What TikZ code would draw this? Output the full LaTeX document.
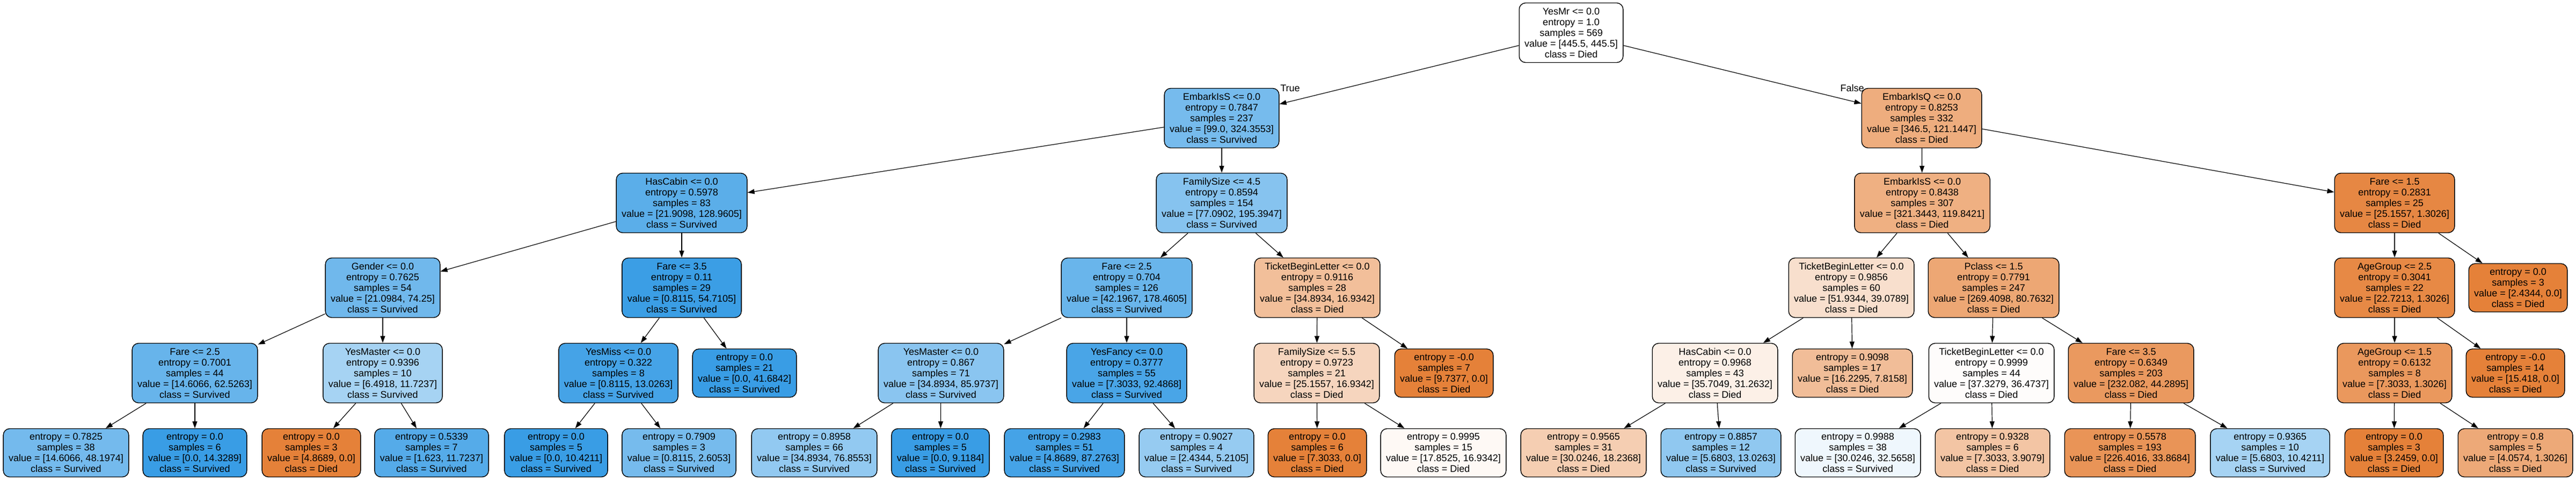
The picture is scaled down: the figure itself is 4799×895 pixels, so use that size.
\documentclass[tikz,border=0pt]{standalone}
\usepackage{fontspec}
\setmainfont{Liberation Sans}
\usepackage{xcolor}
\usepackage{tikz}
\usetikzlibrary{arrows.meta}
\definecolor{died}{HTML}{E58139}
\definecolor{surv}{HTML}{399DE5}
\tikzstyle{splitbox} = [rectangle, rounded corners=12pt, minimum height=111pt, inner xsep=10pt, inner ysep=2pt, align=center, draw=black, line width=1.4pt, font=\fontsize{18}{20}\selectfont]
\tikzstyle{leafbox} = [splitbox, minimum height=90pt]
\tikzstyle{arrow} = [line width=1.2pt, -{Triangle[length=13pt,width=9pt]}]
\tikzstyle{edgelabel} = [inner sep=0pt, font=\fontsize{18}{20}\selectfont]

\begin{document}
\begin{tikzpicture}[x=1pt, y=1pt]
   \fill [white] (0,0) rectangle (4799,-895);
   % depth 0 and 1
   \node (root) [splitbox, fill=white] at (2927,-61) {YesMr <= 0.0\\entropy = 1.0\\samples = 569\\value = [445.5, 445.5]\\class = Died};
   \node (embS) [splitbox, fill=surv!69!white] at (2276,-220) {EmbarkIsS <= 0.0\\entropy = 0.7847\\samples = 237\\value = [99.0, 324.3553]\\class = Survived};
   \node (embQ) [splitbox, fill=died!65!white] at (3580,-220) {EmbarkIsQ <= 0.0\\entropy = 0.8253\\samples = 332\\value = [346.5, 121.1447]\\class = Died};
   % depth 2
   \node (cabin) [splitbox, fill=surv!83!white] at (1270,-378) {HasCabin <= 0.0\\entropy = 0.5978\\samples = 83\\value = [21.9098, 128.9605]\\class = Survived};
   \node (fam) [splitbox, fill=surv!61!white] at (2276,-378) {FamilySize <= 4.5\\entropy = 0.8594\\samples = 154\\value = [77.0902, 195.3947]\\class = Survived};
   \node (embS2) [splitbox, fill=died!63!white] at (3581,-378) {EmbarkIsS <= 0.0\\entropy = 0.8438\\samples = 307\\value = [321.3443, 119.8421]\\class = Died};
   \node (fareA) [splitbox, fill=died!95!white] at (4461,-378) {Fare <= 1.5\\entropy = 0.2831\\samples = 25\\value = [25.1557, 1.3026]\\class = Died};
   % depth 3
   \node (gender) [splitbox, fill=surv!72!white] at (713,-536) {Gender <= 0.0\\entropy = 0.7625\\samples = 54\\value = [21.0984, 74.25]\\class = Survived};
   \node (fareB) [splitbox, fill=surv!99!white] at (1270,-536) {Fare <= 3.5\\entropy = 0.11\\samples = 29\\value = [0.8115, 54.7105]\\class = Survived};
   \node (fareC) [splitbox, fill=surv!76!white] at (2099,-536) {Fare <= 2.5\\entropy = 0.704\\samples = 126\\value = [42.1967, 178.4605]\\class = Survived};
   \node (ticketA) [splitbox, fill=died!51!white] at (2454,-536) {TicketBeginLetter <= 0.0\\entropy = 0.9116\\samples = 28\\value = [34.8934, 16.9342]\\class = Died};
   \node (ticketB) [splitbox, fill=died!25!white] at (3449,-536) {TicketBeginLetter <= 0.0\\entropy = 0.9856\\samples = 60\\value = [51.9344, 39.0789]\\class = Died};
   \node (pclass) [splitbox, fill=died!70!white] at (3714,-536) {Pclass <= 1.5\\entropy = 0.7791\\samples = 247\\value = [269.4098, 80.7632]\\class = Died};
   \node (ageA) [splitbox, fill=died!94!white] at (4461,-536) {AgeGroup <= 2.5\\entropy = 0.3041\\samples = 22\\value = [22.7213, 1.3026]\\class = Died};
   \node (fareAr) [leafbox, fill=died] at (4691,-536) {entropy = 0.0\\samples = 3\\value = [2.4344, 0.0]\\class = Died};
   % depth 4
   \node (fareD) [splitbox, fill=surv!77!white] at (363,-695) {Fare <= 2.5\\entropy = 0.7001\\samples = 44\\value = [14.6066, 62.5263]\\class = Survived};
   \node (masterA) [splitbox, fill=surv!45!white] at (713,-695) {YesMaster <= 0.0\\entropy = 0.9396\\samples = 10\\value = [6.4918, 11.7237]\\class = Survived};
   \node (miss) [splitbox, fill=surv!94!white] at (1152,-695) {YesMiss <= 0.0\\entropy = 0.322\\samples = 8\\value = [0.8115, 13.0263]\\class = Survived};
   \node (fareBr) [leafbox, fill=surv] at (1387,-695) {entropy = 0.0\\samples = 21\\value = [0.0, 41.6842]\\class = Survived};
   \node (masterB) [splitbox, fill=surv!59!white] at (1753,-695) {YesMaster <= 0.0\\entropy = 0.867\\samples = 71\\value = [34.8934, 85.9737]\\class = Survived};
   \node (fancy) [splitbox, fill=surv!92!white] at (2099,-695) {YesFancy <= 0.0\\entropy = 0.3777\\samples = 55\\value = [7.3033, 92.4868]\\class = Survived};
   \node (famB) [splitbox, fill=died!33!white] at (2453,-695) {FamilySize <= 5.5\\entropy = 0.9723\\samples = 21\\value = [25.1557, 16.9342]\\class = Died};
   \node (ticketAr) [leafbox, fill=died] at (2690,-695) {entropy = -0.0\\samples = 7\\value = [9.7377, 0.0]\\class = Died};
   \node (cabinB) [splitbox, fill=died!12!white] at (3195,-695) {HasCabin <= 0.0\\entropy = 0.9968\\samples = 43\\value = [35.7049, 31.2632]\\class = Died};
   \node (ticketBr) [leafbox, fill=died!52!white] at (3451,-695) {entropy = 0.9098\\samples = 17\\value = [16.2295, 7.8158]\\class = Died};
   \node (ticketC) [splitbox, fill=died!2!white] at (3710,-695) {TicketBeginLetter <= 0.0\\entropy = 0.9999\\samples = 44\\value = [37.3279, 36.4737]\\class = Died};
   \node (fareE) [splitbox, fill=died!81!white] at (3970,-695) {Fare <= 3.5\\entropy = 0.6349\\samples = 203\\value = [232.082, 44.2895]\\class = Died};
   \node (ageB) [splitbox, fill=died!82!white] at (4461,-695) {AgeGroup <= 1.5\\entropy = 0.6132\\samples = 8\\value = [7.3033, 1.3026]\\class = Died};
   \node (ageAr) [leafbox, fill=died] at (4686,-695) {entropy = -0.0\\samples = 14\\value = [15.418, 0.0]\\class = Died};
   % depth 5
   \node (fareDl) [leafbox, fill=surv!70!white] at (123,-843.5) {entropy = 0.7825\\samples = 38\\value = [14.6066, 48.1974]\\class = Survived};
   \node (fareDr) [leafbox, fill=surv] at (363,-843.5) {entropy = 0.0\\samples = 6\\value = [0.0, 14.3289]\\class = Survived};
   \node (masterAl) [leafbox, fill=died] at (580,-843.5) {entropy = 0.0\\samples = 3\\value = [4.8689, 0.0]\\class = Died};
   \node (masterAr) [leafbox, fill=surv!86!white] at (804,-843.5) {entropy = 0.5339\\samples = 7\\value = [1.623, 11.7237]\\class = Survived};
   \node (missl) [leafbox, fill=surv] at (1036,-843.5) {entropy = 0.0\\samples = 5\\value = [0.0, 10.4211]\\class = Survived};
   \node (missr) [leafbox, fill=surv!69!white] at (1265,-843.5) {entropy = 0.7909\\samples = 3\\value = [0.8115, 2.6053]\\class = Survived};
   \node (masterBl) [leafbox, fill=surv!55!white] at (1517,-843.5) {entropy = 0.8958\\samples = 66\\value = [34.8934, 76.8553]\\class = Survived};
   \node (masterBr) [leafbox, fill=surv] at (1752,-843.5) {entropy = 0.0\\samples = 5\\value = [0.0, 9.1184]\\class = Survived};
   \node (fancyl) [leafbox, fill=surv!94!white] at (1983,-843.5) {entropy = 0.2983\\samples = 51\\value = [4.8689, 87.2763]\\class = Survived};
   \node (fancyr) [leafbox, fill=surv!53!white] at (2229,-843.5) {entropy = 0.9027\\samples = 4\\value = [2.4344, 5.2105]\\class = Survived};
   \node (famBl) [leafbox, fill=died] at (2454,-843.5) {entropy = 0.0\\samples = 6\\value = [7.3033, 0.0]\\class = Died};
   \node (famBr) [leafbox, fill=died!5!white] at (2689,-843.5) {entropy = 0.9995\\samples = 15\\value = [17.8525, 16.9342]\\class = Died};
   \node (cabinBl) [leafbox, fill=died!39!white] at (2950,-843.5) {entropy = 0.9565\\samples = 31\\value = [30.0246, 18.2368]\\class = Died};
   \node (cabinBr) [leafbox, fill=surv!56!white] at (3206,-843.5) {entropy = 0.8857\\samples = 12\\value = [5.6803, 13.0263]\\class = Survived};
   \node (ticketCl) [leafbox, fill=surv!8!white] at (3461,-843.5) {entropy = 0.9988\\samples = 38\\value = [30.0246, 32.5658]\\class = Survived};
   \node (ticketCr) [leafbox, fill=died!46!white] at (3712,-843.5) {entropy = 0.9328\\samples = 6\\value = [7.3033, 3.9079]\\class = Died};
   \node (fareEl) [leafbox, fill=died!85!white] at (3968,-843.5) {entropy = 0.5578\\samples = 193\\value = [226.4016, 33.8684]\\class = Died};
   \node (fareEr) [leafbox, fill=surv!45!white] at (4229,-843.5) {entropy = 0.9365\\samples = 10\\value = [5.6803, 10.4211]\\class = Survived};
   \node (ageBl) [leafbox, fill=died] at (4460,-843.5) {entropy = 0.0\\samples = 3\\value = [3.2459, 0.0]\\class = Died};
   \node (ageBr) [leafbox, fill=died!68!white] at (4686,-843.5) {entropy = 0.8\\samples = 5\\value = [4.0574, 1.3026]\\class = Died};
   % edges
   \draw [arrow] (root) -- node [edgelabel, pos=1, xshift=20pt, yshift=30pt] {True} (embS);
   \draw [arrow] (root) -- node [edgelabel, pos=1, xshift=-17pt, yshift=29pt] {False} (embQ);
   \draw [arrow] (embS) -- (cabin);
   \draw [arrow] (embS) -- (fam);
   \draw [arrow] (embQ) -- (embS2);
   \draw [arrow] (embQ) -- (fareA);
   \draw [arrow] (cabin) -- (gender);
   \draw [arrow] (cabin) -- (fareB);
   \draw [arrow] (fam) -- (fareC);
   \draw [arrow] (fam) -- (ticketA);
   \draw [arrow] (embS2) -- (ticketB);
   \draw [arrow] (embS2) -- (pclass);
   \draw [arrow] (fareA) -- (ageA);
   \draw [arrow] (fareA) -- (fareAr);
   \draw [arrow] (gender) -- (fareD);
   \draw [arrow] (gender) -- (masterA);
   \draw [arrow] (fareB) -- (miss);
   \draw [arrow] (fareB) -- (fareBr);
   \draw [arrow] (fareC) -- (masterB);
   \draw [arrow] (fareC) -- (fancy);
   \draw [arrow] (ticketA) -- (famB);
   \draw [arrow] (ticketA) -- (ticketAr);
   \draw [arrow] (ticketB) -- (cabinB);
   \draw [arrow] (ticketB) -- (ticketBr);
   \draw [arrow] (pclass) -- (ticketC);
   \draw [arrow] (pclass) -- (fareE);
   \draw [arrow] (ageA) -- (ageB);
   \draw [arrow] (ageA) -- (ageAr);
   \draw [arrow] (fareD) -- (fareDl);
   \draw [arrow] (fareD) -- (fareDr);
   \draw [arrow] (masterA) -- (masterAl);
   \draw [arrow] (masterA) -- (masterAr);
   \draw [arrow] (miss) -- (missl);
   \draw [arrow] (miss) -- (missr);
   \draw [arrow] (masterB) -- (masterBl);
   \draw [arrow] (masterB) -- (masterBr);
   \draw [arrow] (fancy) -- (fancyl);
   \draw [arrow] (fancy) -- (fancyr);
   \draw [arrow] (famB) -- (famBl);
   \draw [arrow] (famB) -- (famBr);
   \draw [arrow] (cabinB) -- (cabinBl);
   \draw [arrow] (cabinB) -- (cabinBr);
   \draw [arrow] (ticketC) -- (ticketCl);
   \draw [arrow] (ticketC) -- (ticketCr);
   \draw [arrow] (fareE) -- (fareEl);
   \draw [arrow] (fareE) -- (fareEr);
   \draw [arrow] (ageB) -- (ageBl);
   \draw [arrow] (ageB) -- (ageBr);
\end{tikzpicture}
\end{document}
